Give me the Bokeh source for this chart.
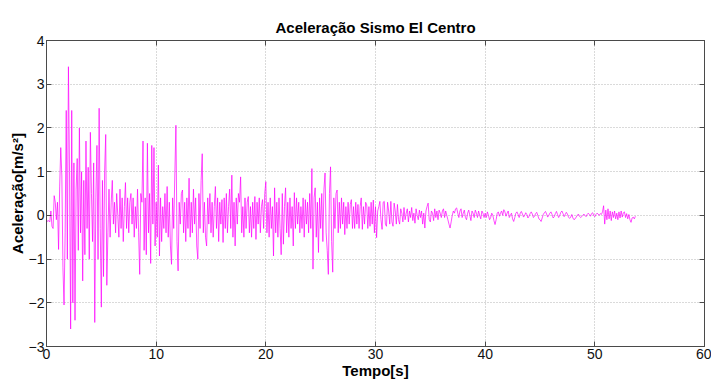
import numpy as np
from bokeh.plotting import figure
from bokeh.models import Range1d, LinearAxis, SingleIntervalTicker, CustomJSTickFormatter
from bokeh.embed import file_html
from bokeh.resources import INLINE

# Sample step of the digitised record (s)
dt = 0.1

# Acceleration [m/s^2], 0-10 s
acc_00_10 = [
    -0.10, -0.14, -0.12, -0.15, 0.10, -0.25, -0.30, 0.45, 0.30, -0.10,
    0.30, -0.78, 0.65, 1.55, 0.90, -1.20, -2.05, -0.40, 2.40, -1.00,
    3.40, 1.00, -2.60, 2.40, -2.00, 1.20, -2.40, 0.60, 1.30, -0.80,
    2.00, -0.40, 1.00, -1.50, 0.80, -0.90, 1.70, -0.30, 1.10, -1.00,
    1.90, 0.50, -0.60, 1.20, -2.45, 0.40, 1.60, -1.00, 2.45, -0.30,
    -2.10, 0.80, -1.40, 1.00, 1.85, -1.60, -0.40, 0.60, -0.50, 0.30,
    0.80, -0.20, 0.30, -0.40, 0.50, 0.00, -0.50, 0.60, -0.30, 0.40,
    -0.60, 0.20, 0.75, -0.30, 0.40, -0.40, 0.30, 0.50, -0.20, 0.40,
    -0.50, 0.20, -0.30, 0.60, -0.40, -1.35, 0.50, 0.30, 1.70, -0.80,
    0.40, -0.90, 1.65, -0.40, 0.50, -1.10, 1.60, -0.20, 1.55, -0.70,
]
# 10-20 s
acc_10_20 = [
    0.30, -0.50, 1.15, -0.93, 0.40, -0.60, 0.20, -0.30, 0.50, -0.40,
    0.66, -0.50, 0.30, -0.70, -1.12, 0.40, -0.30, 0.90, 2.06, -0.60,
    -1.27, 0.30, -0.20, 0.50, 0.58, -0.40, 0.30, -0.60, 0.40, -0.30,
    0.85, -0.50, 0.30, -0.40, 0.60, -0.20, 0.40, -0.70, -1.00, 0.50,
    -0.30, 0.80, 1.41, -0.40, 0.30, -0.50, -0.70, 0.40, -0.20, 0.50,
    -0.40, 0.30, -0.50, 0.20, 0.66, -0.30, 0.40, -0.60, 0.30, -0.20,
    0.36, -0.62, 0.40, -0.30, 0.50, -0.40, 0.20, 0.60, -0.30, 0.92,
    -0.50, 0.30, -0.70, 0.40, -0.20, 0.50, 0.30, 0.88, -0.40, 0.20,
    -0.50, 0.40, -0.30, 0.30, 0.43, -0.40, 0.20, -0.50, 0.30, -0.30,
    0.43, -0.55, 0.30, -0.20, 0.40, -0.40, 0.20, 0.36, -0.30, 0.50,
]
# 20-30 s
acc_20_30 = [
    0.77, -0.40, 0.30, -0.50, 0.40, -0.30, 0.20, -0.93, 0.63, -0.40,
    0.30, -0.50, 0.40, -0.30, -0.90, 0.50, -0.66, 0.20, 0.63, -0.40,
    0.30, -0.50, 0.40, -0.30, 0.20, -0.70, 0.52, -0.30, 0.40, -0.20,
    0.30, -0.40, 0.20, -0.30, 0.40, -0.50, 0.36, -0.20, 0.30, -0.40,
    0.50, -0.30, 1.07, -1.23, 0.40, 0.63, -0.50, 0.30, -0.85, 0.40,
    -0.30, 0.50, -0.60, 0.60, 0.97, -0.40, -0.80, -1.35, 0.50, 1.11,
    -0.60, -1.30, 0.40, -0.30, 0.50, 0.58, -0.40, 0.30, -0.30, 0.40,
    -0.20, 0.30, -0.44, 0.20, -0.30, 0.30, -0.20, 0.25, 0.36, -0.30,
    0.20, -0.30, 0.30, -0.20, 0.25, -0.30, 0.20, 0.40, -0.32, 0.20,
    -0.20, 0.30, 0.24, -0.30, 0.20, -0.25, 0.30, -0.20, 0.35, -0.40,
]
# 30-40 s
acc_30_40 = [
    0.20, -0.51, 0.10, 0.20, 0.32, -0.10, -0.32, 0.30, 0.32, -0.20,
    -0.25, 0.30, 0.10, -0.20, 0.32, -0.15, -0.25, 0.28, 0.10, -0.20,
    0.25, -0.10, -0.20, 0.15, 0.05, -0.15, 0.18, -0.10, 0.05, 0.15,
    -0.15, 0.10, -0.05, 0.18, -0.12, 0.05, -0.18, 0.15, 0.00, -0.10,
    0.12, -0.05, 0.10, -0.20, 0.05, -0.29, 0.10, 0.20, 0.28, -0.10,
    -0.15, 0.10, 0.05, -0.12, 0.15, -0.05, 0.10, -0.10, 0.12, 0.05,
    -0.05, 0.10, 0.15, -0.05, 0.10, 0.00, -0.10, -0.20, -0.29, -0.15,
    0.00, 0.10, 0.05, 0.15, 0.17, 0.05, -0.05, 0.10, 0.15, -0.05,
    0.05, 0.12, -0.05, -0.10, 0.05, 0.12, 0.00, -0.12, 0.10, 0.05,
    -0.05, 0.12, 0.05, -0.05, 0.10, 0.00, -0.08, 0.10, 0.05, -0.05,
]
# 40-53.7 s
acc_40_54 = [
    0.05, -0.05, 0.08, 0.00, -0.10, -0.05, 0.05, 0.00, -0.12, -0.21,
    -0.10, 0.05, 0.08, -0.02, 0.05, 0.10, 0.00, 0.13, 0.08, -0.02,
    0.05, 0.10, -0.05, 0.00, 0.05, -0.08, -0.14, -0.05, 0.05, 0.08,
    0.02, -0.05, 0.05, 0.09, 0.03, -0.04, 0.00, 0.06, 0.02, -0.06,
    -0.02, 0.04, 0.08, 0.03, -0.05, -0.02, 0.04, 0.07, 0.00, -0.08,
    -0.10, -0.14, -0.06, 0.02, 0.06, 0.09, 0.03, -0.04, 0.00, 0.05,
    0.08, 0.02, -0.06, -0.03, 0.04, 0.09, 0.02, -0.05, 0.00, 0.07,
    0.10, 0.04, -0.03, 0.02, 0.07, 0.03, -0.04, -0.07, -0.04, 0.02,
    -0.06, -0.10, -0.08, -0.04, 0.00, 0.03, -0.02, -0.05, -0.03, 0.00,
    0.03, 0.00, -0.03, 0.02, 0.05, 0.02, -0.02, 0.04, 0.06, 0.00,
    -0.03, 0.02, 0.05, 0.03, 0.00, 0.04, 0.02, 0.08, 0.22, -0.20,
    0.12, -0.10, 0.15, -0.08, 0.10, -0.12, 0.08, -0.05, 0.10, -0.08,
    0.05, -0.10, 0.08, -0.06, 0.10, -0.04, 0.06, 0.08, -0.05, 0.04,
    -0.08, 0.02, -0.10, -0.16, -0.06, -0.04, -0.08, -0.02,
]

acc = acc_00_10 + acc_10_20 + acc_20_30 + acc_30_40 + acc_40_54
tempo = list(np.arange(len(acc)) * dt)

title_text = "Aceleração Sismo El Centro"
x_label = "Tempo[s]"
y_label = "Aceleração[m/s²]"

FONT = "Liberation Sans"
AX = "#4a4a4a"

p = figure(width=711, height=381, output_backend="svg", toolbar_location=None,
           x_range=Range1d(0, 60), y_range=Range1d(-3, 4),
           min_border_left=46, min_border_right=7, min_border_top=40, min_border_bottom=32)

p.title.text = title_text
p.title.align = "center"
p.title.text_font = FONT
p.title.text_font_size = "15px"
p.title.text_font_style = "bold"
p.title.text_color = "#000000"
p.title.standoff = 9

p.line(tempo, acc, line_color="#ff00ff", line_width=0.7)

xt = SingleIntervalTicker(interval=10, num_minor_ticks=0)
yt = SingleIntervalTicker(interval=1, num_minor_ticks=0)
p.xaxis.ticker = xt
p.yaxis.ticker = yt
p.xgrid.ticker = xt
p.ygrid.ticker = yt

for ax in (p.xaxis, p.yaxis):
    ax.major_tick_in = 5
    ax.major_tick_out = 0
    ax.minor_tick_in = 0
    ax.minor_tick_out = 0
    ax.axis_line_color = AX
    ax.major_tick_line_color = AX
    ax.major_label_text_font = FONT
    ax.major_label_text_font_size = "14px"
    ax.major_label_text_color = "#111111"
    ax.axis_label_text_font = FONT
    ax.axis_label_text_font_size = "15px"
    ax.axis_label_text_font_style = "bold"
    ax.axis_label_text_color = "#000000"
    ax.major_label_standoff = 2
    ax.axis_label_standoff = 0

p.xaxis.axis_label = x_label
p.yaxis.axis_label = y_label

blank = CustomJSTickFormatter(code="return ''")
top_ax = LinearAxis(ticker=xt, formatter=blank, major_tick_in=5, major_tick_out=0,
                    minor_tick_in=0, minor_tick_out=0, axis_line_color=AX,
                    major_tick_line_color=AX, major_label_standoff=0)
right_ax = LinearAxis(ticker=yt, formatter=blank, major_tick_in=5, major_tick_out=0,
                      minor_tick_in=0, minor_tick_out=0, axis_line_color=AX,
                      major_tick_line_color=AX, major_label_standoff=0)
p.add_layout(top_ax, "above")
p.add_layout(right_ax, "right")

for g in (p.xgrid, p.ygrid):
    g.grid_line_color = "#b4b4b4"
    g.grid_line_dash = "1 2"
    g.grid_line_width = 1

p.outline_line_color = AX
p.background_fill_color = "#ffffff"
p.border_fill_color = "#ffffff"

open("out.html", "w").write(file_html(p, INLINE))
